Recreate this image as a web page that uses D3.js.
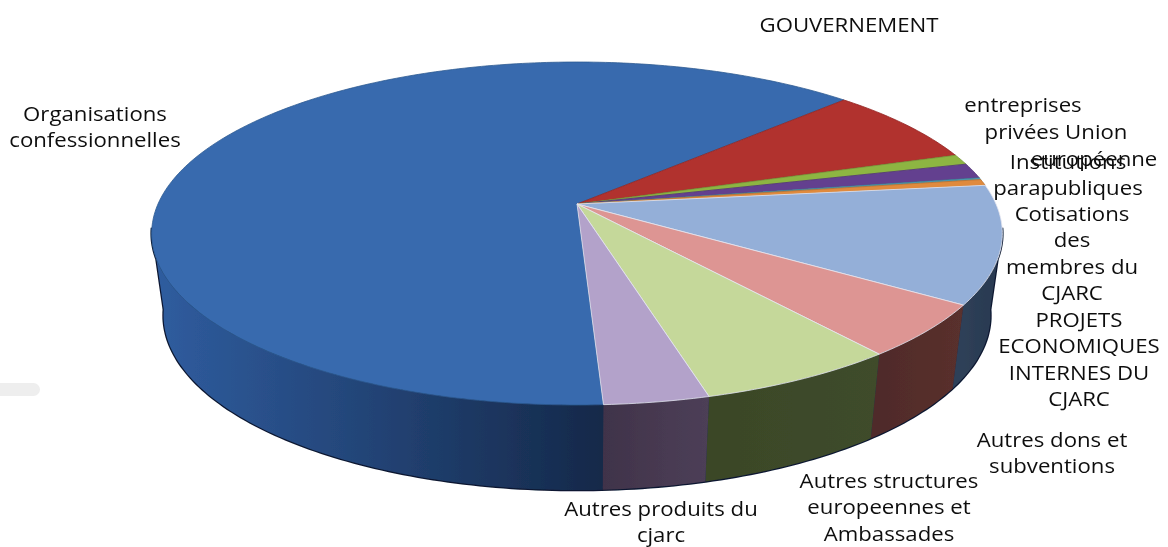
<!DOCTYPE html>
<html>
<head>
<meta charset="utf-8">
<style>
html, body { margin: 0; padding: 0; background: #fff; overflow: hidden; }
text { font-family: "Open Sans", sans-serif; fill: #111; text-anchor: middle; }
</style>
<script src="https://cdn.jsdelivr.net/npm/d3@7"></script>
</head>
<body>
<div class="container"></div>
<script>
var categories = ['Organisations confessionnelles', 'GOUVERNEMENT', 'entreprises privées', 'Union européenne',
    'Institutions parapubliques', 'Cotisations des membres du CJARC', 'PROJETS ECONOMIQUES INTERNES DU CJARC',
    'Autres dons et subventions', 'Autres structures europeennes et Ambassades', 'Autres produits du cjarc'];
var shares = [63.5, 7.36, 0.97, 1.44, 0.17, 0.58, 11.1, 5.0, 6.5, 3.4];

var topColors = ['#376bae', '#b1302e', '#8db543', '#64418f', '#4aa0b8', '#e08a3c', '#94afd8', '#dd9593', '#c5d89a', '#b3a2ca'];
var wallLight = ['#2f5c9e', '#5a1a1a', '#46592a', '#33224a', '#25505c', '#704520', '#2a3b52', '#5a302d', '#3f4c2b', '#4d3f57'];
var wallDark = ['#15294a', '#5a1a1a', '#46592a', '#33224a', '#25505c', '#704520', '#2f4058', '#4f2b29', '#3a4627', '#40334a'];

var labelLines = [
    ['GOUVERNEMENT'],
    ['Organisations', 'confessionnelles'],
    ['entreprises'],
    ['privées Union'],
    ['européenne'],
    ['Institutions', 'parapubliques'],
    ['Cotisations', 'des', 'membres du', 'CJARC'],
    ['PROJETS', 'ECONOMIQUES', 'INTERNES DU', 'CJARC'],
    ['Autres dons et', 'subventions'],
    ['Autres structures', 'europeennes et', 'Ambassades'],
    ['Autres produits du', 'cjarc']
];
var labelX = [849, 95, 1023, 1056, 1094, 1068, 1072, 1079, 1052, 889, 661];
var labelY = [32, 121, 112, 139, 166, 169, 221, 327, 447, 488, 516];

const WIDTH = 1168;
const HEIGHT = 547;
const LINE_HEIGHT = 26.5;
const FONT_SIZE = 20;
const TEXT_STRETCH = 1.11;

// the disc is tilted towards the viewer, so the centre of the pie is not the centre of the ellipse
const APEX_X = 577, APEX_Y = 204;
const RADIUS_X = 419, RADIUS_Y = 166.4, TILT = 0.172;
const ELLIPSE_Y = 233;
const WALL_DROP = 82, WALL_SX = 0.972, WALL_SY = 1.018;
const START_ANGLE = 177 * Math.PI / 180;
const WALL_FROM = 98 * Math.PI / 180, WALL_TO = 262 * Math.PI / 180;

var rimPoint = function (angle) {
    var u = Math.sin(angle), v = -Math.cos(angle);
    var w = 1 - TILT * v;
    return [APEX_X + RADIUS_X * u / w, APEX_Y + RADIUS_Y * v / w];
};

var bottomPoint = function (angle) {
    var p = rimPoint(angle);
    return [APEX_X + (p[0] - APEX_X) * WALL_SX, ELLIPSE_Y + WALL_DROP + (p[1] - ELLIPSE_Y) * WALL_SY];
};

var arcAngles = function (a0, a1) {
    return d3.range(0, 1.0001, 1 / Math.max(2, Math.ceil((a1 - a0) * 60))).map(function (t) {
        return a0 + (a1 - a0) * t;
    });
};

var line = d3.line();

var slicePath = function (d) {
    var points = [[APEX_X, APEX_Y]].concat(arcAngles(d.startAngle, d.endAngle).map(rimPoint));
    return line(points) + 'Z';
};

var wallOutline = function (a0, a1) {
    var angles = arcAngles(a0, a1);
    return line(angles.map(rimPoint).concat(angles.slice().reverse().map(bottomPoint))) + 'Z';
};

// only the part of a slice facing the viewer has a wall
var wallPath = function (d) {
    var shift = d.startAngle >= 2 * Math.PI ? 2 * Math.PI : 0;
    var a0 = Math.max(d.startAngle - shift, WALL_FROM);
    var a1 = Math.min(d.endAngle - shift, WALL_TO);
    return a1 > a0 ? wallOutline(a0, a1) : null;
};

var addGradients = function (defs, slices) {
    slices.forEach(function (d, i) {
        var g = defs.append('linearGradient')
            .attr('id', 'wall' + i)
            .attr('gradientUnits', 'userSpaceOnUse')
            .attr('x1', i == 0 ? 160 : rimPoint(d.startAngle)[0])
            .attr('x2', i == 0 ? 600 : rimPoint(d.endAngle)[0])
            .attr('y1', 0)
            .attr('y2', 0);
        g.append('stop').attr('offset', '0%').attr('stop-color', wallLight[i]);
        g.append('stop').attr('offset', '100%').attr('stop-color', wallDark[i]);
    });
    defs.append('filter').attr('id', 'soft')
        .append('feGaussianBlur').attr('stdDeviation', 0.45);
};

var visualize = function () {
    var svg = d3.select('.container').append('svg')
        .attr('width', WIDTH)
        .attr('height', HEIGHT)
        .style('display', 'block');

    var pie = d3.pie().sort(null)
        .startAngle(START_ANGLE)
        .endAngle(START_ANGLE + 2 * Math.PI);
    var slices = pie(shares);

    addGradients(svg.append('defs'), slices);

    // smudge left in the source picture
    svg.append('rect')
        .attr('x', -10).attr('y', 383)
        .attr('width', 50).attr('height', 13)
        .attr('rx', 6.5)
        .attr('fill', '#eeeeee');

    var chart = svg.append('g').attr('filter', 'url(#soft)');

    // dark edge of the wall, drawn under the walls
    chart.append('path')
        .attr('d', wallOutline(WALL_FROM, WALL_TO))
        .attr('fill', '#15294a')
        .attr('stroke', '#0b1730')
        .attr('stroke-width', 2.5);

    chart.selectAll('path.wall')
        .data(slices)
        .enter()
        .append('path')
        .classed('wall', true)
        .attr('d', wallPath)
        .attr('fill', function (d, i) { return 'url(#wall' + i + ')'; });

    chart.selectAll('path.slice')
        .data(slices)
        .enter()
        .append('path')
        .classed('slice', true)
        .attr('d', slicePath)
        .attr('fill', function (d, i) { return topColors[i]; })
        .attr('stroke', function (d, i) { return i >= 6 ? '#e4e6f0' : d3.color(topColors[i]).darker(0.5); })
        .attr('stroke-width', 0.8)
        .attr('stroke-linejoin', 'round');

    var labels = svg.selectAll('g.label')
        .data(labelLines)
        .enter()
        .append('g')
        .classed('label', true)
        .attr('filter', 'url(#soft)')
        .attr('transform', function (d, i) {
            return 'translate(' + labelX[i] + ',' + labelY[i] + ') scale(' + TEXT_STRETCH + ',1)';
        });

    labels.selectAll('text')
        .data(function (d) { return d; })
        .enter()
        .append('text')
        .attr('y', function (d, i) { return i * LINE_HEIGHT; })
        .style('font-size', FONT_SIZE + 'px')
        .text(function (d) { return d; });
};

window.onload = visualize;
</script>
</body>
</html>
